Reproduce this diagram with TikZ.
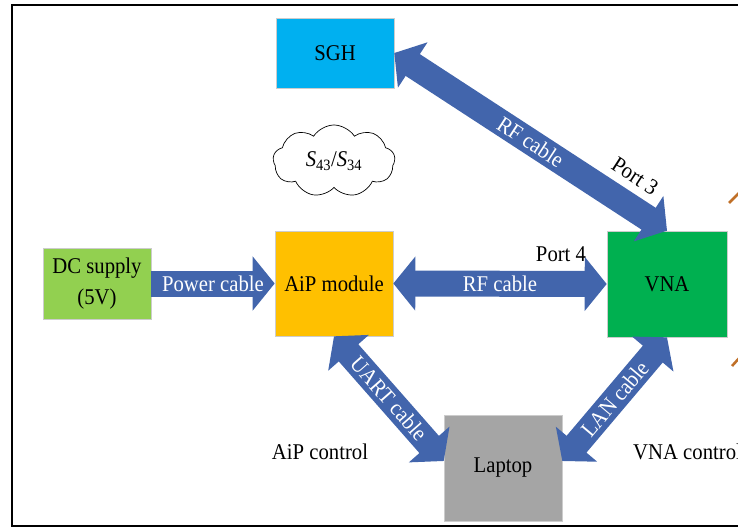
\documentclass[tikz,border=0pt]{standalone}
\usepackage{fontspec}
\setmainfont{Liberation Serif}[FakeStretch=0.92]
\usetikzlibrary{arrows.meta,shapes.symbols}
\definecolor{sghblue}{RGB}{0,176,240}
\definecolor{aiporange}{RGB}{255,192,0}
\definecolor{dcgreen}{RGB}{146,208,80}
\definecolor{vnagreen}{RGB}{0,176,80}
\definecolor{laptopgray}{RGB}{165,165,165}
\definecolor{cableblue}{RGB}{66,101,172}
\definecolor{brownline}{RGB}{192,112,40}
\tikzset{
  txt/.style={font=\fontsize{22.5}{31}\selectfont},
  box/.style={txt, draw=black!20, line width=0.6pt, inner sep=0pt, align=center},
  cable/.style={draw=cableblue, line width=26pt},
  both/.style={cable, {Triangle[length=22pt,width=53pt]}-{Triangle[length=22pt,width=53pt]}},
  onearrow/.style={cable, -{Triangle[length=22pt,width=53pt]}},
  cablelabel/.style={txt, text=white, midway, sloped, inner sep=0pt},
  plain/.style={txt, inner sep=0pt}
}
\begin{document}
\begin{tikzpicture}[x=1pt,y=-1pt]
  \useasboundingbox (0,0) rectangle (738,529);
  % outer frame (runs past the right edge)
  \draw[line width=1.6pt] (12,5) rectangle (760,526);

  % blocks
  \node[box, fill=sghblue, minimum width=118pt, minimum height=70pt] (sgh) at (335,53) {SGH};
  \node[txt, cloud, cloud puffs=9, cloud puff arc=115, aspect=1.7, draw=black, line width=0.7pt,
        minimum width=122pt, minimum height=72pt, inner sep=0pt] (cl) at (334,161)
        {\textit{S}\textsubscript{43}/\textit{S}\textsubscript{34}};
  \node[box, fill=dcgreen, minimum width=108pt, minimum height=71pt] (dc) at (97,283.5) {DC supply\\(5V)};
  \node[box, fill=aiporange, minimum width=118pt, minimum height=105pt] (aip) at (334,283.5) {AiP module};
  \node[box, fill=vnagreen, minimum width=120pt, minimum height=106pt] (vna) at (667,284) {VNA};
  \node[box, fill=laptopgray, minimum width=118pt, minimum height=106pt] (lap) at (503,468) {Laptop};

  % cables
  \draw[onearrow] (dc.east) -- (aip.west) node[cablelabel] {Power cable};
  \draw[both] (aip.east) -- (vna.west) node[cablelabel] {RF cable};
  \draw[both] (sgh.east) -- (vna.north) node[cablelabel] {RF cable};
  \draw[both] (aip.south) -- ([yshift=7pt]lap.west) node[cablelabel] {UART cable};
  \draw[both] ([yshift=7pt]lap.east) -- (vna.south) node[cablelabel] {LAN cable};

  % port and control labels
  \node[plain] (p4) at (561,254) {Port 4};
  \node[plain, rotate=-33] (p3) at (635,176) {Port 3};
  \node[plain] (aipc) at (320,452) {AiP control};
  \node[plain, anchor=west] (vnac) at (633,452) {VNA control};

  % leads entering from the right edge
  \coordinate (b1) at (729,203);
  \coordinate (b2) at (742,190);
  \coordinate (b3) at (732,366);
  \coordinate (b4) at (742,355);
  \draw[brownline, line width=2.6pt] (b1) -- (b2);
  \draw[brownline, line width=2.6pt] (b3) -- (b4);
\end{tikzpicture}
\end{document}
